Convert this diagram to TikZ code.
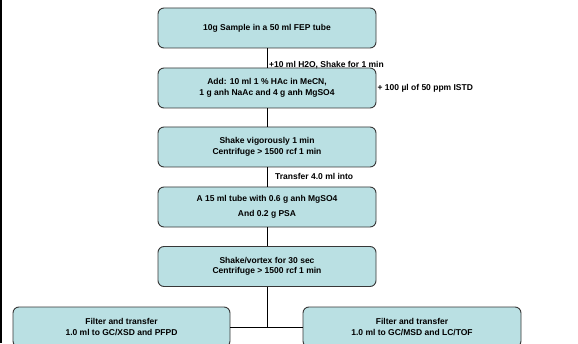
\documentclass[tikz,border=0pt]{standalone}
\usepackage{fontspec}
\setmainfont{Liberation Sans}
\usetikzlibrary{calc,positioning}
\definecolor{boxfill}{RGB}{186,224,227}
\definecolor{boxline}{RGB}{55,55,55}

\begin{document}
\begin{tikzpicture}[x=1pt,y=1pt,
  stepbox/.style={rectangle,rounded corners=6pt,draw=boxline,line width=0.9pt,
    fill=boxfill,minimum width=218pt,minimum height=40pt,inner sep=2pt,
    align=center,font=\fontsize{8.5}{10.5}\selectfont\bfseries},
  lbl/.style={anchor=west,inner sep=1pt,font=\fontsize{8.5}{10}\selectfont\bfseries},
  conn/.style={draw=black,line width=0.9pt}]
  \clip (0,0) rectangle (578,343);
  \fill[white] (0,0) rectangle (578,343);
  \fill[black] (0,0) rectangle (2,343);
  % main column
  \node[stepbox] (b1) at (267,315) {10g Sample in a 50 ml FEP tube};
  \node[stepbox] (b2) at (267,255) {Add: 10 ml 1 \% HAc in MeCN,\\1 g anh NaAc and 4 g anh MgSO4};
  \node[stepbox] (b3) at (267,196) {Shake vigorously 1 min\\Centrifuge > 1500 rcf 1 min};
  \node[stepbox] (b4) at (267,136) {A 15 ml tube with 0.6 g anh MgSO4\\[4pt]And 0.2 g PSA};
  \node[stepbox] (b5) at (267,76.5) {Shake/vortex for 30 sec\\Centrifuge > 1500 rcf 1 min};
  % the two branches
  \node[stepbox,minimum width=217pt] (b6) at (121.5,16) {Filter and transfer\\1.0 ml to GC/XSD and PFPD};
  \node[stepbox] (b7) at (412,16) {Filter and transfer\\1.0 ml to GC/MSD and LC/TOF};
  % side labels
  \node[lbl] (l1) at (268,278) {+10 ml H2O, Shake for 1 min};
  \node[lbl] (l2) at (b2.east) {+ 100 µl of 50 ppm ISTD};
  \node[lbl] (l3) at (274,167) {Transfer 4.0 ml into};
  % connectors
  \draw[conn] (b1) -- (b2);
  \draw[conn] (b2) -- (b3);
  \draw[conn] (b3) -- (b4);
  \draw[conn] (b4) -- (b5);
  \coordinate (j) at (b5.south |- b6.east);
  \draw[conn] (b5) -- (j);
  \draw[conn] (b6.east) -- (b7.west);
\end{tikzpicture}
\end{document}
